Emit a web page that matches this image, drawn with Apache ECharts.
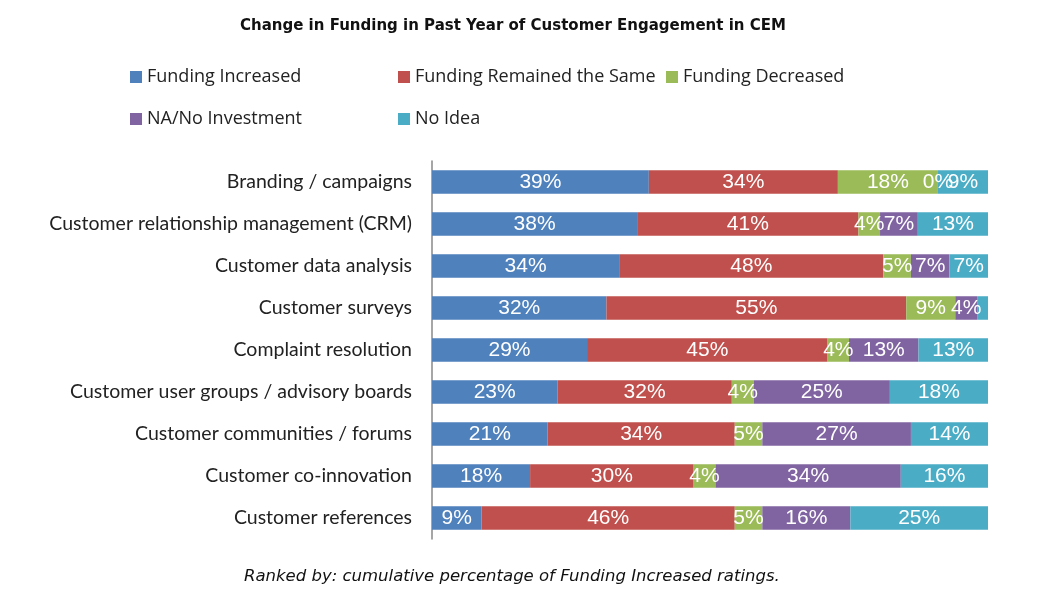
<!DOCTYPE html>
<html>
<head>
<meta charset="utf-8">
<script src="https://cdn.jsdelivr.net/npm/echarts@6/dist/echarts.min.js"></script>
<style>html,body{margin:0;padding:0;background:#fff}#c{width:1048px;height:608px}</style>
</head>
<body>
<div id="c"></div>
<script>
const categories = [
  'Branding / campaigns',
  'Customer relationship management (CRM)',
  'Customer data analysis',
  'Customer surveys',
  'Complaint resolution',
  'Customer user groups / advisory boards',
  'Customer communities / forums',
  'Customer co-innovation',
  'Customer references'
];
const seriesNames = ['Funding Increased','Funding Remained the Same','Funding Decreased','NA/No Investment','No Idea'];
const fundingIncreased = [39,38,34,32,29,23,21,18,9];
const fundingSame      = [34,41,48,55,45,32,34,30,46];
const fundingDecreased = [18,4,5,9,4,4,5,4,5];
const naNoInvestment   = [0,7,7,4,13,25,27,34,16];
const noIdea           = [9,13,7,2,13,18,14,16,25];
const hiddenLabels = [[4,3]]; // [seriesIndex, categoryIndex] labels not shown in the reference
const colors = ['#4F81BD','#C0504D','#9BBB59','#8064A2','#4BACC6'];

const allValues = [fundingIncreased, fundingSame, fundingDecreased, naNoInvestment, noIdea];
const totals = categories.map((_, i) => allValues.reduce((s, arr) => s + arr[i], 0));

const series = allValues.map((arr, si) => ({
  name: seriesNames[si],
  type: 'bar',
  stack: 'total',
  barCategoryGap: '44%',
  itemStyle: { color: colors[si] },
  label: {
    show: true,
    position: 'inside',
    color: '#fff',
    fontFamily: 'Liberation Sans, Arial, sans-serif',
    fontSize: 21,
    formatter: p => p.data.raw + '%'
  },
  data: arr.map((v, ci) => {
    const d = { value: v / totals[ci] * 100, raw: v };
    if (hiddenLabels.some(h => h[0] === si && h[1] === ci)) d.label = { show: false };
    return d;
  })
}));

const legendPos = [[130,68],[398,68],[666,68],[130,110],[398,110]];
const legends = seriesNames.map((n, i) => ({
  data: [n], left: legendPos[i][0], top: legendPos[i][1], padding: 0,
  icon: 'rect', itemWidth: 12, itemHeight: 12, itemGap: 5,
  textStyle: { fontSize: 18, color: '#222', fontFamily: 'Liberation Sans Narrow, Open Sans, sans-serif' }
}));

const chart = echarts.init(document.getElementById('c'));
chart.setOption({
  animation: false,
  title: [
    { text: 'Change in Funding in Past Year of Customer Engagement in CEM', left: 240, top: 19, padding: 0,
      textStyle: { fontSize: 15, fontWeight: 'bold', color: '#111', fontFamily: 'DejaVu Sans, sans-serif' } },
    { text: 'Ranked by: cumulative percentage of Funding Increased ratings.', left: 244, top: 568, padding: 0,
      textStyle: { fontSize: 16.5, fontWeight: 'normal', fontStyle: 'italic', color: '#111', fontFamily: 'DejaVu Sans, sans-serif' } }
  ],
  legend: legends,
  grid: { left: 432, right: 60, top: 161, bottom: 69 },
  xAxis: { type: 'value', min: 0, max: 100, show: false },
  yAxis: {
    type: 'category', data: categories, inverse: true,
    axisLine: { show: true, lineStyle: { color: '#888', width: 1.5 } },
    axisTick: { show: false },
    axisLabel: { margin: 20, fontSize: 19.5, color: '#222', fontFamily: 'Lato, sans-serif' }
  },
  series: series
});
</script>
</body>
</html>
